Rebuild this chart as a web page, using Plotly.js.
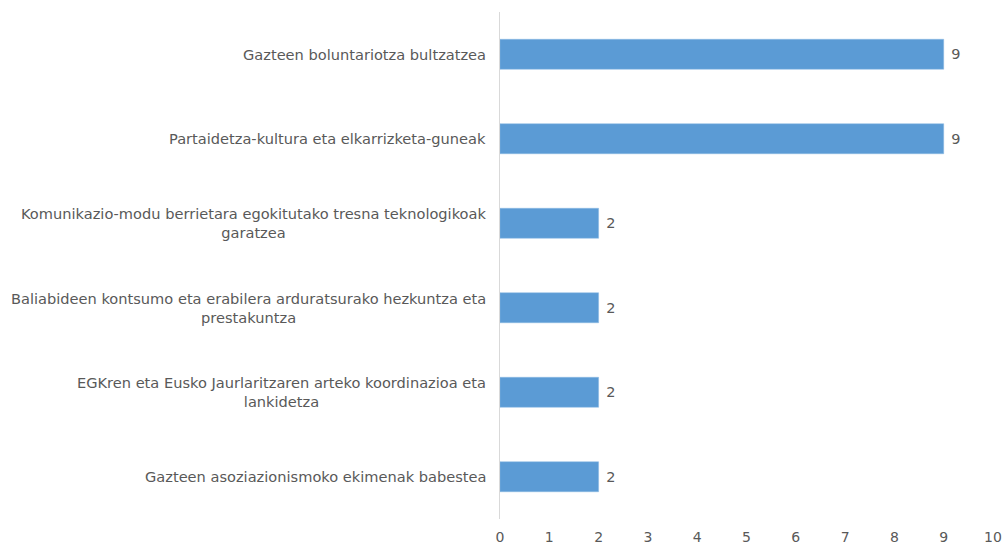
<!DOCTYPE html>
<html>
<head>
<meta charset="utf-8">
<script src="https://cdn.plot.ly/plotly-3.0.1.min.js"></script>
<style>html,body{margin:0;padding:0;background:#fff;}#chart{width:1005px;height:547px;}</style>
</head>
<body>
<div id="chart"></div>
<script>
var categories = [
  "Gazteen boluntariotza bultzatzea",
  "Partaidetza-kultura eta elkarrizketa-guneak",
  "Komunikazio-modu berrietara egokitutako tresna teknologikoak<br>garatzea",
  "Baliabideen kontsumo eta erabilera arduratsurako hezkuntza eta<br>prestakuntza",
  "EGKren eta Eusko Jaurlaritzaren arteko koordinazioa eta<br>lankidetza",
  "Gazteen asoziazionismoko ekimenak babestea"
];
var values = [9, 9, 2, 2, 2, 2];
var xTicks = [0,1,2,3,4,5,6,7,8,9,10];

var font = "DejaVu Sans, Verdana, sans-serif";
var gray = "#595959";

var trace = {
  type: "bar",
  orientation: "h",
  x: values,
  y: categories,
  marker: {color: "#5B9BD5", line: {color: "#8AB8E3", width: 0.5}},
  text: values.map(String),
  texttemplate: " %{text}",
  textposition: "outside",
  textfont: {family: font, size: 14.5, color: gray},
  cliponaxis: false,
  hoverinfo: "none"
};

var annotations = categories.map(function(c){
  return {
    xref: "paper", yref: "y", x: 0, y: c,
    xanchor: "right", yanchor: "middle", xshift: -12,
    text: c, align: "center", showarrow: false,
    font: {family: font, size: 14.6, color: gray}
  };
});

var layout = {
  width: 1005, height: 547,
  margin: {l: 500, r: 12, t: 12, b: 28},
  paper_bgcolor: "#fff", plot_bgcolor: "#fff",
  bargap: 0.645,
  showlegend: false,
  xaxis: {
    range: [0, 10], tickvals: xTicks, ticktext: xTicks.map(String),
    showgrid: false, zeroline: false, showline: false,
    tickfont: {family: font, size: 14, color: gray}, ticks: "", ticklen: 0,
    ticklabelstandoff: 8
  },
  yaxis: {
    autorange: "reversed", showticklabels: false, showgrid: false,
    zeroline: false, showline: true, linecolor: "#D9D9D9", linewidth: 1, ticks: ""
  },
  annotations: annotations
};

Plotly.newPlot("chart", [trace], layout, {displayModeBar: false, staticPlot: true});
</script>
</body>
</html>
